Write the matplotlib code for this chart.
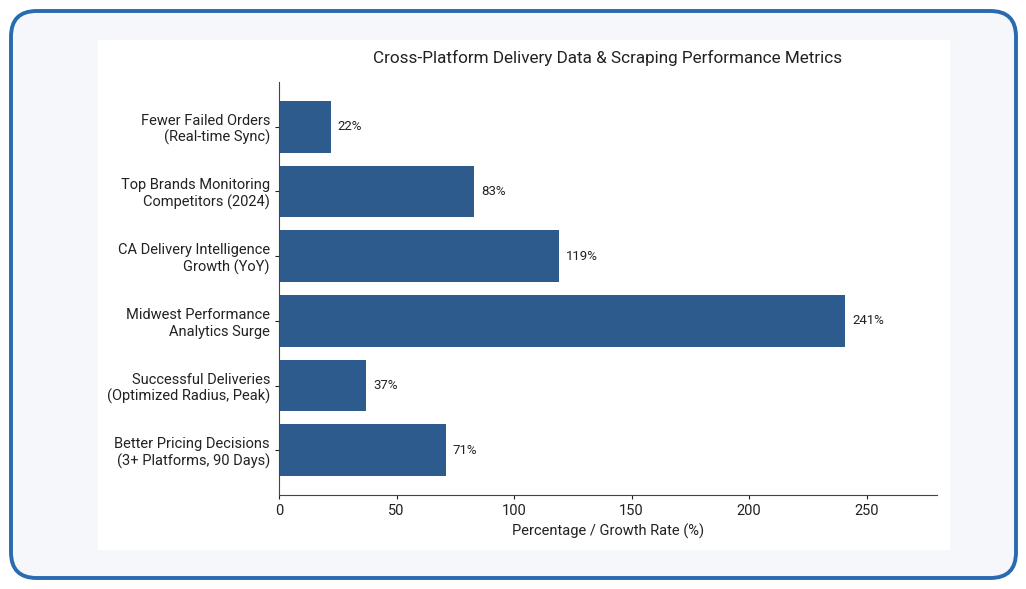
import numpy as np
import matplotlib.pyplot as plt
from matplotlib.patches import FancyBboxPatch, Rectangle

# data
categories = [
    "Fewer Failed Orders\n(Real-time Sync)",
    "Top Brands Monitoring\nCompetitors (2024)",
    "CA Delivery Intelligence\nGrowth (YoY)",
    "Midwest Performance\nAnalytics Surge",
    "Successful Deliveries\n(Optimized Radius, Peak)",
    "Better Pricing Decisions\n(3+ Platforms, 90 Days)",
]
values = [22, 83, 119, 241, 37, 71]
xticks = [0, 50, 100, 150, 200, 250]

plt.rcParams['font.family'] = ['Roboto', 'DejaVu Sans']
W, H = 1026, 589
fig = plt.figure(figsize=(W / 100, H / 100), dpi=100)

# outer rounded frame and inner white panel (behind the axes)
frame = FancyBboxPatch((11 / W, 11 / H), (1016 - 11) / W, (578 - 11) / H,
                       boxstyle="round,pad=0,rounding_size=0.025",
                       transform=fig.transFigure, facecolor='#f5f7fb',
                       edgecolor='#2a6aae', linewidth=2.8, mutation_aspect=W / H,
                       zorder=-2)
fig.patches.append(frame)
panel = Rectangle((98 / W, (H - 550) / H), (950 - 98) / W, (550 - 40) / H,
                  transform=fig.transFigure, facecolor='white', edgecolor='none',
                  zorder=-1)
fig.patches.append(panel)

ax = fig.add_axes([279 / W, (H - 495) / H, (937 - 279) / W, (495 - 82) / H])
ax.set_facecolor('none')

y = np.arange(len(categories))[::-1]
ax.barh(y, values, height=0.8, color='#2d5b8e')
for yi, v in zip(y, values):
    ax.text(v + 3, yi, f"{v}%", va='center', ha='left', fontsize=9.5, color='#222222')

ax.set_yticks(y)
ax.set_yticklabels(categories, fontsize=10.5, color='#222222')
ax.set_xticks(xticks)
ax.set_xlim(0, 280)
ax.tick_params(axis='x', labelsize=10.5, colors='#222222', length=3)
ax.tick_params(axis='y', length=3, colors='#222222')
for s in ['top', 'right']:
    ax.spines[s].set_visible(False)
for s in ['left', 'bottom']:
    ax.spines[s].set_color('#444444')
ax.set_xlabel("Percentage / Growth Rate (%)", fontsize=10.5, color='#222222', labelpad=4)
ax.set_title("Cross-Platform Delivery Data & Scraping Performance Metrics",
             fontsize=12.3, color='#222222', pad=14)

fig.savefig("out.png", dpi=100, facecolor='white')
